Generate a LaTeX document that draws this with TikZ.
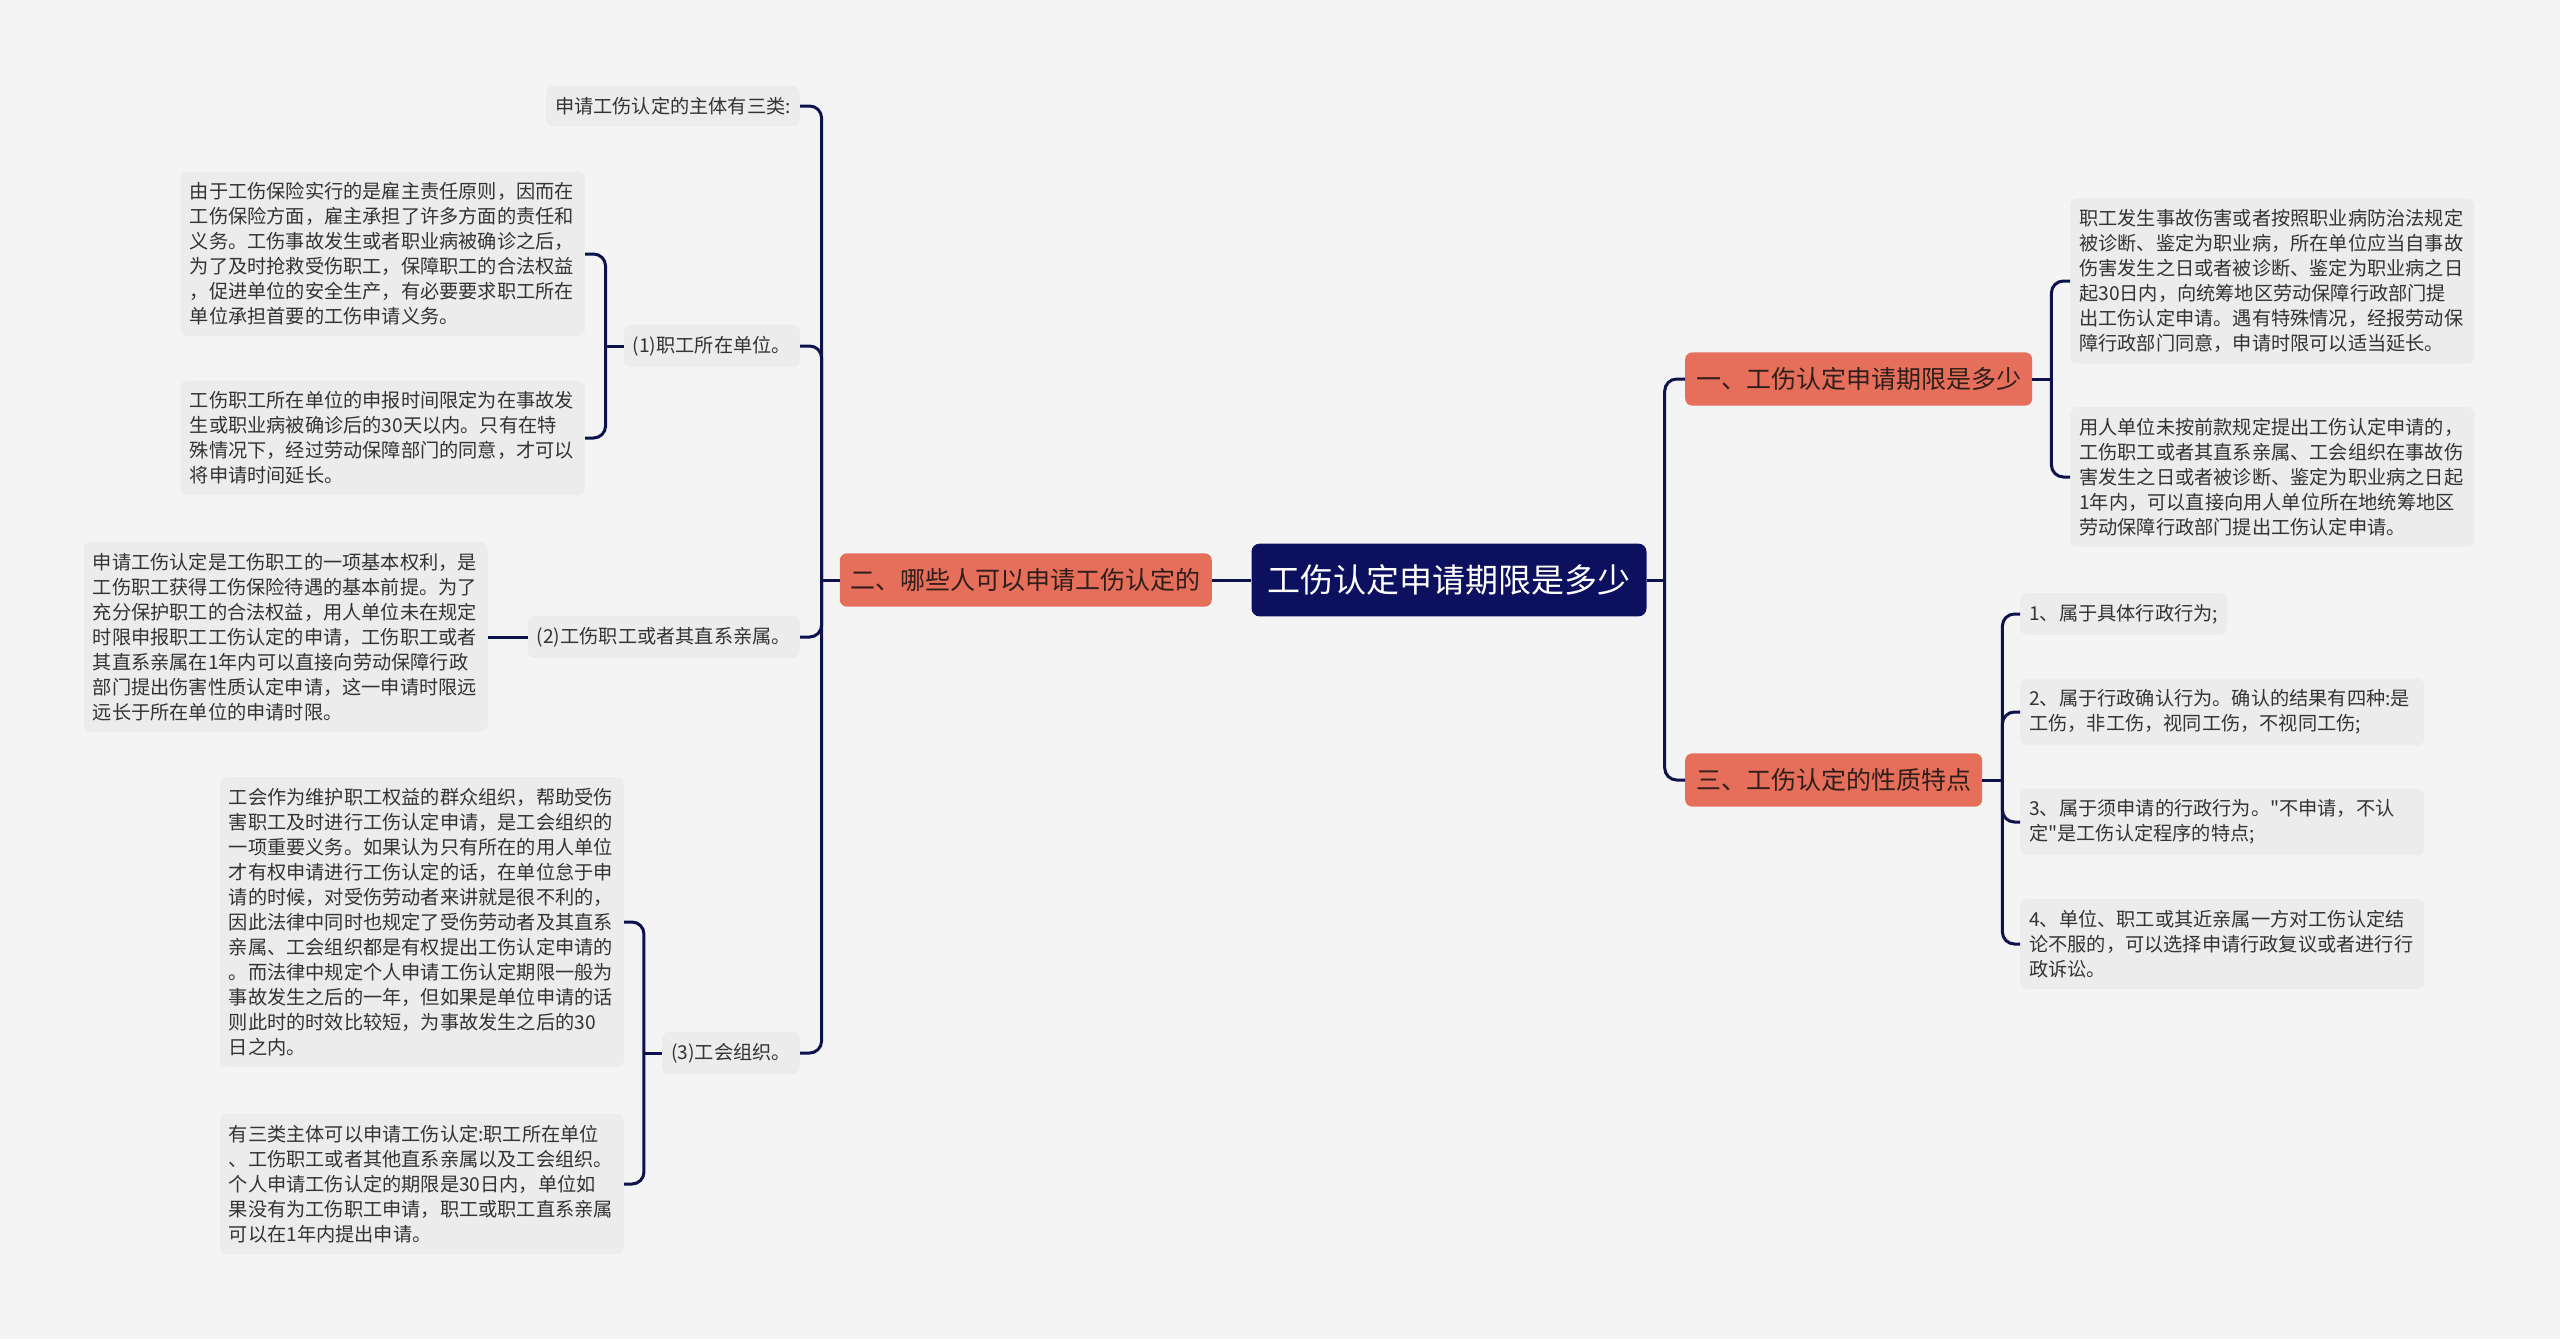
\documentclass[tikz,border=0pt]{standalone}
\usepackage{fontspec}
\setmainfont{Noto Sans CJK SC}[Ligatures=TeXOff]
\definecolor{bggray}{RGB}{244,244,244}
\definecolor{leafgray}{RGB}{236,236,236}
\definecolor{rootnavy}{RGB}{12,16,94}
\definecolor{linenavy}{RGB}{14,18,76}
\definecolor{branchred}{RGB}{229,111,91}
\definecolor{textdark}{RGB}{51,51,51}
\definecolor{branchtext}{RGB}{48,30,26}

\begin{document}
\begin{tikzpicture}[x=1pt,y=-1pt,
  rootbox/.style={rectangle,rounded corners=8pt,fill=rootnavy,text=white,inner xsep=16pt,inner ysep=21pt,font={\fontsize{33pt}{40pt}\selectfont}},
  branchbox/.style={rectangle,rounded corners=7pt,fill=branchred,text=branchtext,inner xsep=11pt,inner ysep=15pt,font={\fontsize{25pt}{30pt}\selectfont}},
  leafbox/.style={rectangle,rounded corners=7pt,fill=leafgray,text=textdark,inner xsep=9pt,inner ysep=11pt,align=left,font={\fontsize{19.2pt}{25pt}\selectfont}},
  wideleaf/.style={leafbox,text width=386pt},
  link/.style={draw=linenavy,line width=3pt,rounded corners=12pt}]
\fill[bggray] (0,0) rectangle (2560,1339);
\useasboundingbox (0,0) rectangle (2560,1339);

\node[rootbox] (root) at (1449,580) {工伤认定申请期限是多少};
\node[branchbox,anchor=east] (who) at (1212,580) {二、哪些人可以申请工伤认定的};
\node[branchbox,anchor=west] (term) at (1685,379) {一、工伤认定申请期限是多少};
\node[branchbox,anchor=west] (nature) at (1685,780) {三、工伤认定的性质特点};

\node[leafbox,anchor=east] (subj) at (800,106) {申请工伤认定的主体有三类:};
\node[leafbox,anchor=east] (unit) at (800,346) {(1)职工所在单位。};
\node[leafbox,anchor=east] (kin) at (800,637) {(2)工伤职工或者其直系亲属。};
\node[leafbox,anchor=east] (union) at (800,1053) {(3)工会组织。};

\node[wideleaf,anchor=east] (unita) at (585,254) {由于工伤保险实行的是雇主责任原则，因而在\\工伤保险方面，雇主承担了许多方面的责任和\\义务。工伤事故发生或者职业病被确诊之后，\\为了及时抢救受伤职工，保障职工的合法权益\\，促进单位的安全生产，有必要要求职工所在\\单位承担首要的工伤申请义务。};
\node[wideleaf,anchor=east] (unitb) at (585,438) {工伤职工所在单位的申报时间限定为在事故发\\生或职业病被确诊后的30天以内。只有在特\\殊情况下，经过劳动保障部门的同意，才可以\\将申请时间延长。};
\node[wideleaf,anchor=east] (kina) at (488,637) {申请工伤认定是工伤职工的一项基本权利，是\\工伤职工获得工伤保险待遇的基本前提。为了\\充分保护职工的合法权益，用人单位未在规定\\时限申报职工工伤认定的申请，工伤职工或者\\其直系亲属在1年内可以直接向劳动保障行政\\部门提出伤害性质认定申请，这一申请时限远\\远长于所在单位的申请时限。};
\node[wideleaf,anchor=east] (uniona) at (624,922) {工会作为维护职工权益的群众组织，帮助受伤\\害职工及时进行工伤认定申请，是工会组织的\\一项重要义务。如果认为只有所在的用人单位\\才有权申请进行工伤认定的话，在单位怠于申\\请的时候，对受伤劳动者来讲就是很不利的，\\因此法律中同时也规定了受伤劳动者及其直系\\亲属、工会组织都是有权提出工伤认定申请的\\。而法律中规定个人申请工伤认定期限一般为\\事故发生之后的一年，但如果是单位申请的话\\则此时的时效比较短，为事故发生之后的30\\日之内。};
\node[wideleaf,anchor=east] (unionb) at (624,1184) {有三类主体可以申请工伤认定:职工所在单位\\、工伤职工或者其他直系亲属以及工会组织。\\个人申请工伤认定的期限是30日内，单位如\\果没有为工伤职工申请，职工或职工直系亲属\\可以在1年内提出申请。};

\node[wideleaf,anchor=west] (terma) at (2070,281) {职工发生事故伤害或者按照职业病防治法规定\\被诊断、鉴定为职业病，所在单位应当自事故\\伤害发生之日或者被诊断、鉴定为职业病之日\\起30日内，向统筹地区劳动保障行政部门提\\出工伤认定申请。遇有特殊情况，经报劳动保\\障行政部门同意，申请时限可以适当延长。};
\node[wideleaf,anchor=west] (termb) at (2070,477) {用人单位未按前款规定提出工伤认定申请的，\\工伤职工或者其直系亲属、工会组织在事故伤\\害发生之日或者被诊断、鉴定为职业病之日起\\1年内，可以直接向用人单位所在地统筹地区\\劳动保障行政部门提出工伤认定申请。};

\node[leafbox,anchor=west] (nat1) at (2020,614) {1、属于具体行政行为;};
\node[wideleaf,anchor=west] (nat2) at (2020,712) {2、属于行政确认行为。确认的结果有四种:是\\工伤，非工伤，视同工伤，不视同工伤;};
\node[wideleaf,anchor=west] (nat3) at (2020,822) {3、属于须申请的行政行为。"不申请，不认\\定"是工伤认定程序的特点;};
\node[wideleaf,anchor=west] (nat4) at (2020,944) {4、单位、职工或其近亲属一方对工伤认定结\\论不服的，可以选择申请行政复议或者进行行\\政诉讼。};

\draw[link] (who) -- (root);
\draw[link] (root.east) -- ++(18,0) coordinate (rootj);
\draw[link] (rootj) |- (term.west);
\draw[link] (rootj) |- (nature.west);

\draw[link] (who.west) -- ++(-18,0) coordinate (whoj);
\draw[link] (whoj) |- (subj.east);
\draw[link] (whoj) |- (unit.east);
\draw[link] (whoj) |- (kin.east);
\draw[link] (whoj) |- (union.east);

\draw[link] (unit.west) -- ++(-18,0) coordinate (unitj);
\draw[link] (unitj) |- (unita.east);
\draw[link] (unitj) |- (unitb.east);
\draw[link] (kin) -- (kina);
\draw[link] (union.west) -- ++(-18,0) coordinate (unionj);
\draw[link] (unionj) |- (uniona.east);
\draw[link] (unionj) |- (unionb.east);

\draw[link] (term.east) -- ++(19,0) coordinate (termj);
\draw[link] (termj) |- (terma.west);
\draw[link] (termj) |- (termb.west);

\draw[link] (nature.east) -- ++(20,0) coordinate (naturej);
\draw[link] (naturej) |- (nat1.west);
\draw[link] (naturej) |- (nat2.west);
\draw[link] (naturej) |- (nat3.west);
\draw[link] (naturej) |- (nat4.west);
\end{tikzpicture}
\end{document}
